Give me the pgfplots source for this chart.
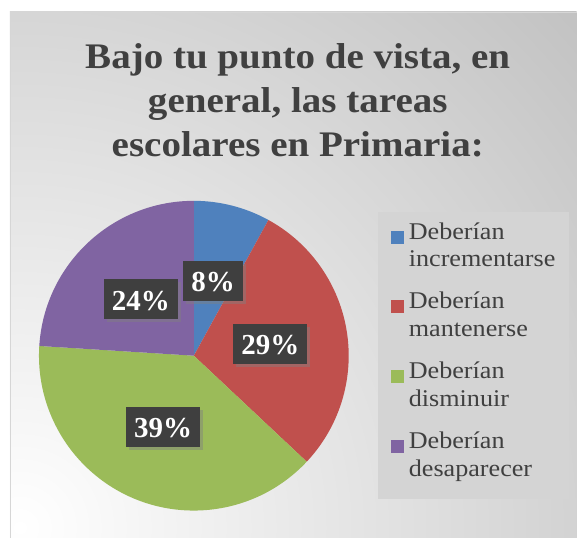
\documentclass[border=0pt]{standalone}
\usepackage{fontspec}
\usepackage{pgfplots}
\usepackage{pgfplotstable}
\pgfplotsset{compat=1.18}
\usetikzlibrary{shadows}
\setmainfont{Liberation Serif}
\newfontfamily\titlefont[FakeStretch=1.085]{Liberation Serif}
\newfontfamily\legfont[FakeStretch=1.09]{Liberation Serif}
\definecolor{pieblue}{HTML}{4F81BD}
\definecolor{piered}{HTML}{C0504D}
\definecolor{piegreen}{HTML}{9BBB59}
\definecolor{piepurple}{HTML}{8064A2}
\definecolor{bggray}{HTML}{BFBFBF}
\definecolor{leggray}{HTML}{D4D4D4}
\definecolor{txtgray}{HTML}{404040}
\definecolor{labbox}{HTML}{3F3F3F}
\definecolor{framegray}{HTML}{D6D6D6}
\newcommand\legtwo[2]{\parbox[t]{147pt}{\raggedright #1\\#2}}

\pgfplotstableread{
value color
8 pieblue
29 piered
39 piegreen
24 piepurple
}\piedata

\begin{document}
\begin{tikzpicture}
\begin{axis}[
  scale only axis, width=577pt, height=538pt,
  xmin=0, xmax=577, ymin=0, ymax=538,
  hide axis, clip=false,
  legend style={at={(0.6551,0.6059)}, anchor=north west,
    fill=leggray, draw=none, inner xsep=13pt, inner ysep=13pt,
    row sep=19pt, font=\legfont\fontsize{24}{28}\selectfont, text=txtgray,
    nodes={inner sep=0pt, text height=14pt, text depth=37pt},
    /tikz/every odd column/.append style={column sep=5pt}},
  legend cell align=left,
  legend image code/.code={\path[draw=none, fill=none] (0pt,-8pt) -- (13pt,-8pt); \fill[#1, draw=none] (0pt,7pt) rectangle (13pt,20pt);},
]
\pgfplotsextra{
  % background
  \fill[white] (axis cs:0,0) rectangle (axis cs:577,538);
  \begin{scope}
    \clip (axis cs:10,0) rectangle (axis cs:577,526);
    \fill[bggray] (axis cs:10,0) rectangle (axis cs:577,526);
    \shade[inner color=white, outer color=bggray] (axis cs:20,10) circle (800pt);
  \end{scope}
  \draw[framegray, line width=1pt] (axis cs:10.5,0) -- (axis cs:10.5,525.5) -- (axis cs:577,525.5);
  % title
  \node[anchor=base, font=\titlefont\bfseries\fontsize{36}{44}\selectfont, text=txtgray] at (axis cs:298,469) {Bajo tu punto de vista, en};
  \node[anchor=base, font=\titlefont\bfseries\fontsize{36}{44}\selectfont, text=txtgray] at (axis cs:298,425) {general, las tareas};
  \node[anchor=base, font=\titlefont\bfseries\fontsize{36}{44}\selectfont, text=txtgray] at (axis cs:298,381) {escolares en Primaria:};
  % pie slices
  \pgfplotstablegetrowsof{\piedata}
  \pgfmathtruncatemacro\lastrow{\pgfplotsretval-1}
  \xdef\cum{90}
  \foreach \i in {0,...,\lastrow}{
    \pgfplotstablegetelem{\i}{value}\of\piedata \pgfmathsetmacro\pv{\pgfplotsretval}
    \pgfplotstablegetelem{\i}{color}\of\piedata \edef\pc{\pgfplotsretval}
    \pgfmathsetmacro\pb{\cum-3.6*\pv}
    \fill[fill=\pc] (axis cs:194,182) -- ++(\cum:155pt) arc[start angle=\cum, end angle=\pb, radius=155pt] -- cycle;
    \xdef\cum{\pb}
  }
  % labels
  \xdef\cum{90}
  \foreach \i in {0,...,\lastrow}{
    \pgfplotstablegetelem{\i}{value}\of\piedata \edef\plab{\pgfplotsretval}
    \pgfmathsetmacro\pmid{\cum-1.8*\plab}
    \pgfmathsetmacro\pb{\cum-3.6*\plab}
    \path (axis cs:194,182) ++(\pmid:77.5pt) node[fill=labbox, text=white,
      font=\bfseries\fontsize{29}{30}\selectfont, inner xsep=8pt, inner ysep=0pt,
      minimum height=40pt, text height=22pt, text depth=0pt,
      drop shadow={shadow xshift=3pt, shadow yshift=-3pt, opacity=0.45}] {\plab\%};
    \xdef\cum{\pb}
  }
}
\addlegendimage{pieblue}
\addlegendentry{\legtwo{Deberían}{incrementarse}}
\addlegendimage{piered}
\addlegendentry{\legtwo{Deberían}{mantenerse}}
\addlegendimage{piegreen}
\addlegendentry{\legtwo{Deberían}{disminuir}}
\addlegendimage{piepurple}
\addlegendentry{\legtwo{Deberían}{desaparecer}}
\end{axis}
\end{tikzpicture}
\end{document}
